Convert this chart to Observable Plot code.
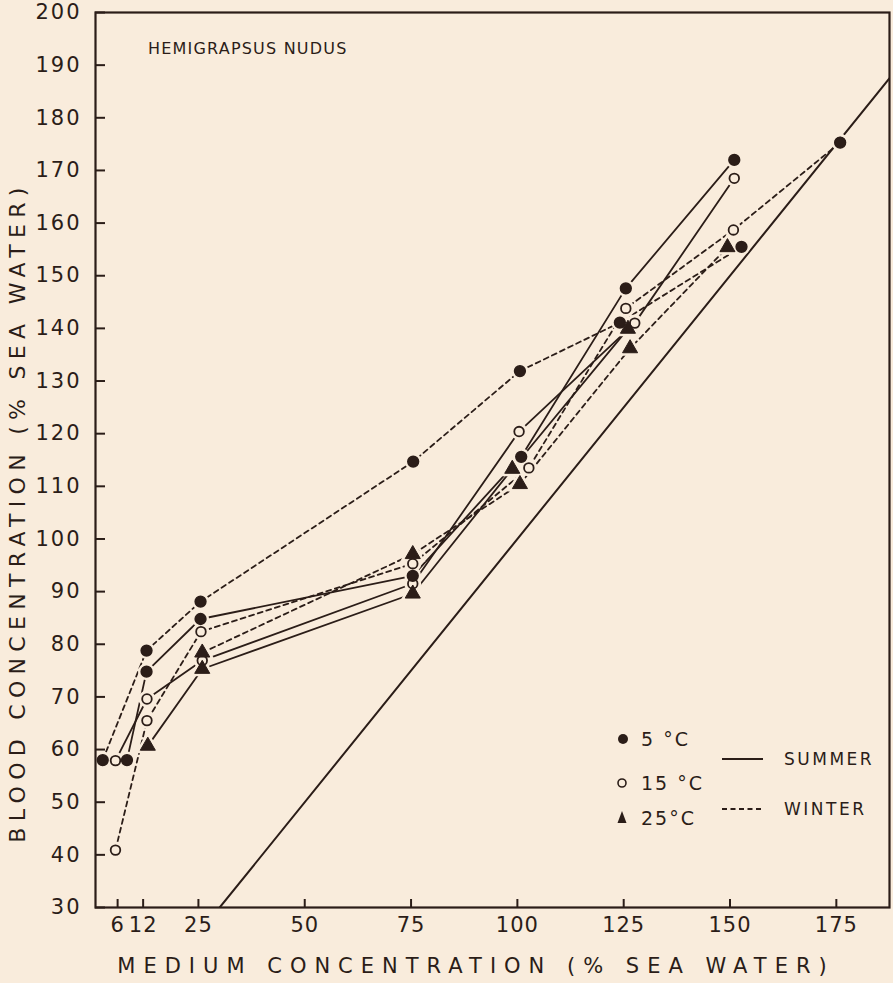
<!DOCTYPE html>
<html><head><meta charset="utf-8">
<script src="https://cdn.jsdelivr.net/npm/d3@7"></script>
<script src="https://cdn.jsdelivr.net/npm/@observablehq/plot@0.6"></script>
<style>
html,body{margin:0;padding:0;background:#f9ecdc;}
#wrap{position:relative;width:893px;height:983px;font-family:"DejaVu Sans",sans-serif;color:#2b1d18;overflow:hidden}
#wrap svg g[aria-label="y-axis tick label"] text{letter-spacing:2px}
#wrap svg g[aria-label="x-axis tick label"] text{letter-spacing:1px}
.lbl{position:absolute;white-space:nowrap;line-height:1}
#ylab{left:18px;top:512px;font-size:22px;letter-spacing:6.3px;transform:translate(-50%,-50%) rotate(-90deg);}
#xlab{left:476px;top:966px;font-size:21px;letter-spacing:8px;transform:translate(-50%,-50%);}
#title{left:148px;top:41px;font-size:16px;letter-spacing:1.2px}
#legend{position:absolute;left:0;top:0}
</style></head><body><div id="wrap"></div>
<script>
const ink = "#2b1d18", bg = "#f9ecdc";
const xTickValues = [6, 12, 25, 50, 75, 100, 125, 150, 175];
const yTickValues = [30, 40, 50, 60, 70, 80, 90, 100, 110, 120, 130, 140, 150, 160, 170, 180, 190, 200];
const isoLine = [30, 190];

const seasons = ["SUMMER", "WINTER"];
const temps = ["5 °C", "15 °C", "25°C"];

// Summer (solid lines)
const summer5x  = [8.2, 12.8, 25.5, 75.4, 100.9, 125.5, 151.0];
const summer5y  = [58.0, 74.8, 84.8, 93.0, 115.6, 147.6, 172.0];
const summer15x = [5.5, 12.9, 25.9, 75.4, 100.4, 127.6, 151.0];
const summer15y = [57.9, 69.6, 76.9, 91.5, 120.4, 141.0, 168.5];
const summer25x = [13.1, 25.9, 75.4, 98.8, 126.0];
const summer25y = [60.7, 75.3, 89.6, 113.3, 139.9];
// Winter (dashed lines)
const winter5x  = [2.5, 12.8, 25.5, 75.5, 100.6, 124.1, 152.7, 175.9];
const winter5y  = [58.0, 78.8, 88.1, 114.7, 131.9, 141.1, 155.5, 175.3];
const winter15x = [5.5, 12.9, 25.6, 75.4, 102.7, 125.5, 150.8, 175.9];
const winter15y = [40.9, 65.5, 82.4, 95.3, 113.5, 143.8, 158.7, 175.3];
const winter25x = [25.9, 75.4, 100.6, 126.5, 149.4];
const winter25y = [78.4, 97.1, 110.4, 136.2, 155.4];
// points drawn without a joining line (winter 5 °C at 175 %)
const unjoined = [["WINTER", 0, 175.9]];

const seriesDefs = [
  [seasons[0], 0, summer5x, summer5y], [seasons[0], 1, summer15x, summer15y], [seasons[0], 2, summer25x, summer25y],
  [seasons[1], 0, winter5x, winter5y], [seasons[1], 1, winter15x, winter15y], [seasons[1], 2, winter25x, winter25y]
];
const rows = [];
for (const [season, ti, xs, ys] of seriesDefs)
  xs.forEach((x, i) => rows.push({
    season, temp: temps[ti], ti, series: season + ti, x, y: ys[i],
    joined: !unjoined.some(([s, t, ux]) => s === season && t === ti && ux === x)
  }));
const summer = rows.filter(d => d.season === "SUMMER");
const winter = rows.filter(d => d.season === "WINTER" && d.joined);
const openDots = rows.filter(d => d.ti === 1);
const filledDots = rows.filter(d => d.ti === 0);
const circles = rows.filter(d => d.ti < 2);
const tris = rows.filter(d => d.ti === 2);

const W = 893, H = 983, mL = 95, mR = 4, mT = 12, mB = 76;
const xDomain = [0.8, 187.5], yDomain = [30, 200];
// inward tick lengths (10px on y, 8px on x) expressed through the same linear scales
const sx = d3.scaleLinear(xDomain, [mL, W - mR]);
const sy = d3.scaleLinear(yDomain, [H - mB, mT]);
const xTickEnd = sx.invert(mL + 10);
const yTickEnd = sy.invert(H - mB - 8);

const plot = Plot.plot({
  width: W, height: H,
  marginLeft: mL, marginRight: mR, marginTop: mT, marginBottom: mB,
  style: {background: "transparent", color: ink, fontFamily: "DejaVu Sans, sans-serif", overflow: "visible"},
  x: {domain: xDomain},
  y: {domain: yDomain},
  marks: [
    Plot.axisX({ticks: xTickValues, tickSize: 0, tickPadding: 10, label: null, fontSize: 21}),
    Plot.axisY({ticks: yTickValues, tickSize: 0, tickPadding: 14, label: null, fontSize: 21}),
    Plot.ruleY(yTickValues, {y: d => d, x1: xDomain[0], x2: xTickEnd, stroke: ink, strokeWidth: 2}),
    Plot.ruleX(xTickValues, {x: d => d, y1: yDomain[0], y2: yTickEnd, stroke: ink, strokeWidth: 2}),
    Plot.line(isoLine, {x: d => d, y: d => d, stroke: ink, strokeWidth: 2, clip: true}),
    Plot.line(summer, {x: "x", y: "y", z: "series", stroke: ink, strokeWidth: 1.8}),
    Plot.line(winter, {x: "x", y: "y", z: "series", stroke: ink, strokeWidth: 1.8, strokeDasharray: "5,4"}),
    // halos so lines stop short of the symbols
    Plot.dot(circles, {x: "x", y: "y", r: 7, fill: bg, stroke: bg, strokeWidth: 3}),
    Plot.dot(tris, {x: "x", y: "y", r: 6.2, symbol: "triangle", fill: bg, stroke: bg, strokeWidth: 5}),
    Plot.dot(openDots, {x: "x", y: "y", r: 4.8, fill: bg, stroke: ink, strokeWidth: 1.8}),
    Plot.dot(filledDots, {x: "x", y: "y", r: 5.4, fill: ink, stroke: ink, strokeWidth: 1.5}),
    Plot.dot(tris, {x: "x", y: "y", r: 5.6, symbol: "triangle", fill: ink, stroke: ink, strokeWidth: 1}),
    Plot.frame({stroke: ink, strokeWidth: 2.2})
  ]
});
const wrap = document.getElementById("wrap");
wrap.appendChild(plot);

function addLabel(id, txt) {
  const d = document.createElement("div");
  d.className = "lbl"; d.id = id; d.textContent = txt; wrap.appendChild(d);
}
addLabel("ylab", "BLOOD CONCENTRATION (% SEA WATER)");
addLabel("xlab", "MEDIUM CONCENTRATION (% SEA WATER)");
addLabel("title", "HEMIGRAPSUS NUDUS");

// legend (inside the plot area, lower right)
const ns = "http://www.w3.org/2000/svg";
const lg = document.createElementNS(ns, "svg");
lg.setAttribute("id", "legend"); lg.setAttribute("width", W); lg.setAttribute("height", H);
const symY = [739, 783, 818];
const lineY = [759, 809];
let html = "";
html += `<circle cx="623" cy="${symY[0]}" r="5" fill="${ink}"/>`;
html += `<circle cx="622" cy="${symY[1]}" r="4" fill="none" stroke="${ink}" stroke-width="1.6"/>`;
html += `<path d="M622,${symY[2]-7} L626.5,${symY[2]+5} L617.5,${symY[2]+5} Z" fill="${ink}"/>`;
temps.forEach((t, i) => {
  html += `<text x="641" y="${symY[i]}" dy="0.36em" font-size="19" fill="${ink}" style="letter-spacing:2px">${t}</text>`;
});
html += `<line x1="722" x2="763" y1="${lineY[0]}" y2="${lineY[0]}" stroke="${ink}" stroke-width="1.8"/>`;
html += `<line x1="722" x2="763" y1="${lineY[1]}" y2="${lineY[1]}" stroke="${ink}" stroke-width="1.8" stroke-dasharray="5,3.5"/>`;
seasons.forEach((s, i) => {
  html += `<text x="784" y="${lineY[i]}" dy="0.36em" font-size="17" fill="${ink}" style="letter-spacing:2.5px">${s}</text>`;
});
lg.innerHTML = html;
wrap.appendChild(lg);
</script>
</body></html>
